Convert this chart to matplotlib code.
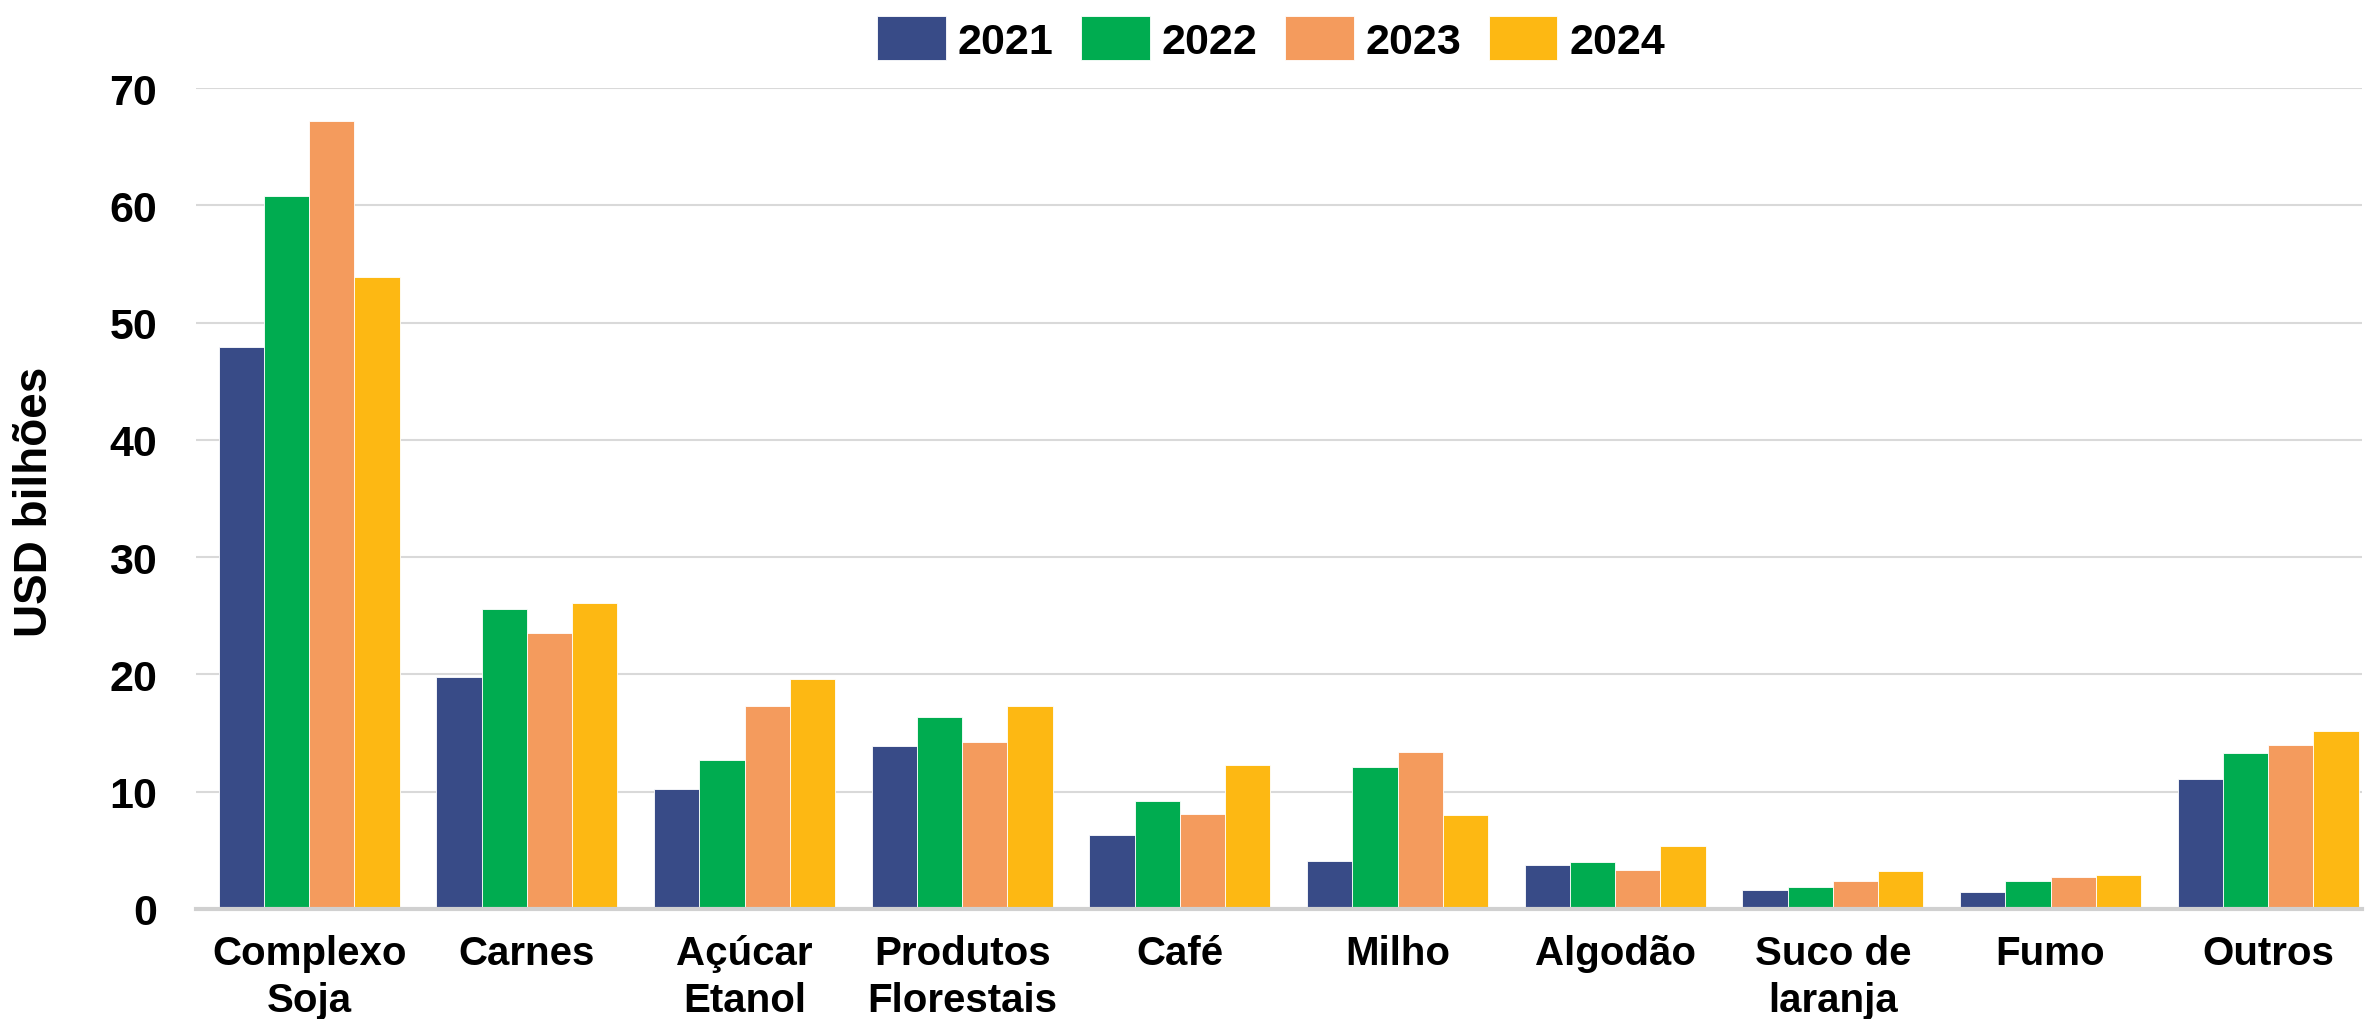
import matplotlib
matplotlib.use("Agg")
import matplotlib.pyplot as plt
import numpy as np

categories = ["Complexo\nSoja", "Carnes", "Açúcar\nEtanol", "Produtos\nFlorestais", "Café",
              "Milho", "Algodão", "Suco de\nlaranja", "Fumo", "Outros"]
years = ["2021", "2022", "2023", "2024"]
v2021 = [47.9, 19.8, 10.2, 13.9, 6.3, 4.1, 3.7, 1.6, 1.4, 11.1]
v2022 = [60.8, 25.6, 12.7, 16.4, 9.2, 12.1, 4.0, 1.9, 2.4, 13.3]
v2023 = [67.2, 23.5, 17.3, 14.2, 8.1, 13.4, 3.3, 2.4, 2.7, 14.0]
v2024 = [53.9, 26.1, 19.6, 17.3, 12.3, 8.0, 5.4, 3.2, 2.9, 15.2]
series = [v2021, v2022, v2023, v2024]
colors = ["#384B87", "#00AC50", "#F49B5D", "#FDB813"]
yticks = [0, 10, 20, 30, 40, 50, 60, 70]

plt.rcParams['font.family'] = ['Liberation Sans', 'DejaVu Sans']
plt.rcParams['font.weight'] = 'bold'

fig = plt.figure(figsize=(23.67, 10.2), dpi=100)
ax = fig.add_axes([0.0828, 0.108, 0.915, 0.8045])

x = np.arange(len(categories))
w = 0.208
for i, (vals, c, yr) in enumerate(zip(series, colors, years)):
    ax.bar(x + (i - 1.5) * w, vals, width=w, color=c, label=yr,
           edgecolor="white", linewidth=0.6, zorder=3)

ax.set_ylim(0, 70)
ax.set_xlim(-0.52, 9.43)
ax.set_yticks(yticks)
ax.set_yticklabels([str(t) for t in yticks], fontsize=31, fontweight='bold')
ax.set_xticks(x)
ax.set_xticklabels(categories, fontsize=29, fontweight='bold', linespacing=1.3)
ax.tick_params(axis='both', length=0)
ax.tick_params(axis='x', pad=18)
ax.tick_params(axis='y', pad=28)
ax.grid(axis='y', color='#D9D9D9', linewidth=1.5, zorder=0)
for s in ['top', 'right', 'left']:
    ax.spines[s].set_visible(False)
ax.spines['bottom'].set_color('#D0D0D0')
ax.spines['bottom'].set_linewidth(3)
ax.spines['bottom'].set_zorder(4)

fig.text(35 / 2367, 0.508, "USD bilhões", rotation=90, ha='center', va='center',
         fontsize=33, fontweight='bold')

fig.legend(loc='center', bbox_to_anchor=(0.537, 0.961), ncol=4, frameon=False,
           prop={'size': 31, 'weight': 'bold'}, handlelength=1.6, handleheight=1.2,
           handletextpad=0.28, columnspacing=0.63)

fig.savefig("out.png", dpi=100)
